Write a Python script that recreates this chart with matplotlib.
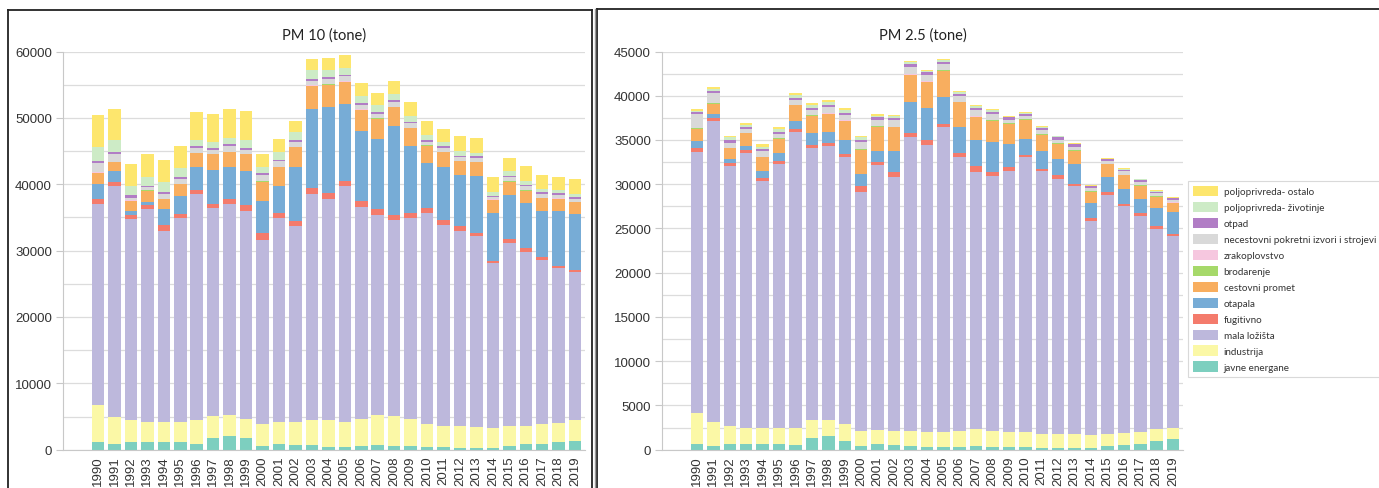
import matplotlib
matplotlib.use("Agg")
import matplotlib.pyplot as plt
from matplotlib.patches import Patch
from matplotlib.lines import Line2D
from matplotlib.ticker import MultipleLocator
import numpy as np

plt.rcParams["font.family"] = ["Liberation Sans", "DejaVu Sans"]

years = [str(y) for y in range(1990, 2020)]

categories = ["javne energane", "industrija", "mala ložišta", "fugitivno", "otapala",
              "cestovni promet", "brodarenje", "zrakoplovstvo",
              "necestovni pokretni izvori i strojevi", "otpad",
              "poljoprivreda- životinje", "poljoprivreda- ostalo"]

colors = ["#7dcfbf", "#fbf8a6", "#bdb8dc", "#f47b6c", "#77acd6", "#f8ae5f",
          "#a6d96a", "#f6c7df", "#d9d9d9", "#b17dc5", "#cdebc6", "#fde66d"]

# ---------------- PM 10 (tone) ----------------
pm10_javne = [1200, 850, 1100, 1200, 1100, 1100, 800, 1800, 2100, 1700, 600, 850, 700, 700, 400,
              400, 500, 700, 500, 600, 350, 350, 300, 300, 300, 600, 800, 850, 1100, 1350]
pm10_industrija = [5500, 4050, 3400, 3000, 3100, 3100, 3600, 3300, 3200, 3000, 3200, 3250, 3400, 3800, 4000,
                   3800, 4200, 4600, 4600, 4000, 3500, 3250, 3200, 3100, 3000, 2900, 2700, 2950, 2900, 3150]
pm10_mala = [30300, 34900, 30200, 32000, 28800, 30700, 34150, 31300, 31700, 31300, 27850, 30800, 29550, 34050, 33400,
             35500, 31800, 30100, 29450, 30300, 31750, 30300, 29500, 28750, 24800, 27600, 26250, 24800, 23350, 22250]
pm10_fugitivno = [800, 600, 600, 600, 800, 600, 650, 600, 700, 800, 1000, 800, 850, 850, 900,
                  850, 900, 900, 850, 800, 800, 750, 650, 500, 400, 650, 600, 500, 400, 400]
pm10_otapala = [2200, 1650, 600, 500, 2500, 2800, 3450, 5200, 4950, 5250, 4750, 4100, 8050, 11950, 13000,
                11550, 10600, 10450, 13300, 10000, 6800, 7900, 7800, 8650, 7200, 6650, 6850, 6900, 8150, 8300]
pm10_cestovni = [1700, 1250, 1600, 1750, 1500, 1750, 2050, 2350, 2150, 2450, 3000, 2750, 3050, 3450, 3300,
                 3300, 3200, 3100, 2900, 2750, 2600, 2250, 2000, 2000, 1950, 2000, 1850, 1900, 1900, 1850]
pm10_brodarenje = [60, 50, 40, 40, 40, 40, 50, 50, 50, 50, 50, 50, 50, 60, 60,
                   60, 60, 60, 60, 50, 50, 50, 50, 50, 40, 40, 40, 40, 40, 40]
pm10_zrakoplovstvo = [20, 20, 10, 10, 10, 10, 20, 20, 20, 20, 20, 20, 20, 20, 20,
                      20, 20, 20, 20, 20, 20, 20, 20, 20, 20, 20, 20, 20, 20, 20]
pm10_necestovni = [1450, 1230, 450, 450, 700, 700, 630, 580, 830, 630, 930, 830, 630, 720, 820,
                   820, 670, 670, 770, 680, 530, 530, 530, 530, 390, 590, 590, 590, 540, 440]
pm10_otpad = [250, 200, 350, 250, 350, 250, 300, 300, 300, 300, 300, 250, 300, 300, 200,
              200, 250, 250, 250, 250, 250, 300, 250, 300, 200, 250, 250, 250, 250, 250]
pm10_zivotinje = [2100, 1800, 1400, 1250, 1400, 1350, 1000, 900, 950, 1100, 950, 1200, 1250, 1250, 1150,
                  1000, 1150, 1100, 950, 900, 800, 700, 700, 500, 600, 750, 600, 500, 550, 500]
pm10_ostalo = [4800, 4750, 3250, 3450, 3400, 3400, 4150, 4200, 4400, 4450, 1850, 1950, 1750, 1750, 1800,
               1900, 1950, 1800, 1950, 2000, 2050, 1950, 2200, 2250, 2250, 1950, 2150, 2150, 1950, 2250]

# ---------------- PM 2.5 (tone) ----------------
pm25_javne = [700, 450, 650, 700, 650, 700, 550, 1350, 1600, 950, 400, 600, 550, 450, 250,
              250, 300, 450, 350, 350, 250, 200, 200, 150, 150, 400, 550, 600, 950, 1200]
pm25_industrija = [3450, 2650, 2050, 1800, 1750, 1800, 1900, 1950, 1800, 1950, 1700, 1600, 1550, 1650, 1800,
                   1700, 1800, 1900, 1750, 1700, 1700, 1600, 1600, 1600, 1500, 1350, 1300, 1350, 1400, 1300]
pm25_mala = [29450, 34100, 29400, 31050, 28000, 29800, 33450, 30850, 30950, 30150, 27050, 30000, 28700, 33200, 32400,
             34500, 30950, 29000, 28800, 29400, 31100, 29650, 28800, 28050, 24250, 27050, 25650, 24500, 22600, 21600]
pm25_fugitivno = [450, 300, 300, 300, 300, 300, 300, 300, 300, 400, 600, 350, 550, 500, 600,
                  400, 500, 750, 450, 450, 300, 300, 400, 250, 250, 300, 250, 250, 300, 300]
pm25_otapala = [800, 450, 450, 500, 850, 950, 950, 1350, 1300, 1550, 1350, 1150, 2450, 3450, 3550,
                3050, 2900, 2850, 3400, 2600, 1800, 1950, 1850, 2250, 1750, 1700, 1700, 1650, 2050, 2450]
pm25_cestovni = [1400, 1150, 1200, 1400, 1500, 1600, 1800, 1950, 2000, 2150, 2800, 2800, 2650, 3100, 2950,
                 2950, 2800, 2650, 2450, 2350, 2150, 1900, 1750, 1500, 1250, 1450, 1550, 1500, 1300, 1050]
pm25_brodarenje = [50, 40, 40, 40, 40, 40, 40, 40, 40, 40, 40, 40, 40, 50, 50,
                   50, 50, 50, 50, 40, 40, 40, 40, 40, 40, 30, 30, 30, 30, 30]
pm25_zrakoplovstvo = [20, 20, 10, 10, 10, 10, 20, 20, 20, 20, 20, 20, 20, 20, 20,
                      20, 20, 20, 20, 20, 20, 20, 20, 20, 20, 20, 20, 20, 20, 20]
pm25_necestovni = [1580, 1140, 550, 450, 700, 500, 540, 590, 690, 640, 840, 740, 740, 880, 730,
                   680, 680, 680, 680, 390, 340, 490, 390, 390, 340, 300, 400, 350, 350, 300]
pm25_otpad = [250, 200, 300, 250, 200, 250, 250, 250, 250, 200, 250, 250, 250, 250, 300,
              250, 250, 250, 250, 250, 250, 200, 250, 250, 200, 200, 200, 200, 150, 150]
pm25_zivotinje = [150, 300, 350, 200, 250, 300, 300, 300, 300, 300, 250, 200, 200, 250, 150,
                  150, 150, 200, 200, 100, 100, 100, 100, 100, 100, 100, 100, 100, 100, 100]
pm25_ostalo = [200, 200, 200, 200, 250, 200, 250, 250, 250, 250, 150, 150, 150, 150, 150,
               100, 100, 100, 100, 50, 100, 100, 100, 100, 100, 100, 50, 50, 50, 100]

pm10_series = [pm10_javne, pm10_industrija, pm10_mala, pm10_fugitivno, pm10_otapala, pm10_cestovni,
               pm10_brodarenje, pm10_zrakoplovstvo, pm10_necestovni, pm10_otpad, pm10_zivotinje, pm10_ostalo]
pm25_series = [pm25_javne, pm25_industrija, pm25_mala, pm25_fugitivno, pm25_otapala, pm25_cestovni,
               pm25_brodarenje, pm25_zrakoplovstvo, pm25_necestovni, pm25_otpad, pm25_zivotinje, pm25_ostalo]

W, H = 1379, 489
fig = plt.figure(figsize=(W / 100, H / 100), dpi=100)
fig.patch.set_facecolor("white")

title_font = ["Lato", "DejaVu Sans"]


def px(x0, y0, x1, y1):
    return [x0 / W, 1 - y1 / H, (x1 - x0) / W, (y1 - y0) / H]


def draw(ax, series, title, ymax, major, minor):
    x = np.arange(len(years))
    bottom = np.zeros(len(years))
    for vals, col, lab in zip(series, colors, categories):
        v = np.array(vals, dtype=float)
        ax.bar(x, v, bottom=bottom, width=0.76, color=col, label=lab, linewidth=0, zorder=3)
        bottom += v
    ax.set_xlim(-2.13, 29.6)
    ax.set_ylim(0, ymax)
    ax.yaxis.set_major_locator(MultipleLocator(major))
    ax.yaxis.set_minor_locator(MultipleLocator(minor))
    ax.grid(True, which="both", axis="y", color="#dcdcdc", linewidth=0.9, zorder=0)
    ax.set_axisbelow(True)
    ax.set_xticks(x)
    ax.set_xticklabels(years, rotation=90, fontsize=9.5, color="#333333")
    ax.tick_params(axis="y", which="major", labelsize=9.5, labelcolor="#333333",
                   length=5, color="#c8c8c8", pad=3)
    ax.tick_params(axis="y", which="minor", length=0)
    ax.tick_params(axis="x", length=0, pad=4)
    for s in ("top", "right"):
        ax.spines[s].set_visible(False)
    ax.spines["left"].set_color("#c8c8c8")
    ax.spines["bottom"].set_color("#c8c8c8")
    ax.spines["left"].set_zorder(4)
    ax.spines["bottom"].set_zorder(4)
    ax.set_title(title, fontsize=10.5, family=title_font, color="#222222", pad=9)


ax1 = fig.add_axes(px(63, 52.5, 585, 450.7))
ax2 = fig.add_axes(px(662, 52.5, 1183, 450.7))
draw(ax1, pm10_series, "PM 10 (tone)", 60000, 10000, 5000)
draw(ax2, pm25_series, "PM 2.5 (tone)", 45000, 5000, 2500)


def fline(xs, ys, lw=1.3, color="#222222"):
    fig.add_artist(Line2D([x / W for x in xs], [1 - y / H for y in ys], lw=lw, color=color))


fline([8, 592], [10.5, 10.5])
fline([8, 8], [10.5, 489])
fline([592, 592], [10.5, 489])
fline([597, 1379], [10, 10])
fline([597, 597], [10, 489])
fline([595, 595], [10, 489], lw=1.0, color="#999999")

handles = [Patch(facecolor=c, edgecolor="none", label=l) for c, l in zip(colors, categories)][::-1]
leg = fig.legend(handles=handles, loc="upper left", bbox_to_anchor=(1188 / W, 1 - 182 / H),
                 frameon=True, fancybox=False, edgecolor="#d0d0d0",
                 prop={"family": title_font, "size": 7.1},
                 handlelength=2.5, handleheight=1.25, labelspacing=0.55, handletextpad=0.6,
                 borderpad=0.5, borderaxespad=0)
leg.get_frame().set_linewidth(0.8)
for t in leg.get_texts():
    t.set_color("#333333")

fig.savefig("out.png", dpi=100, facecolor="white")
